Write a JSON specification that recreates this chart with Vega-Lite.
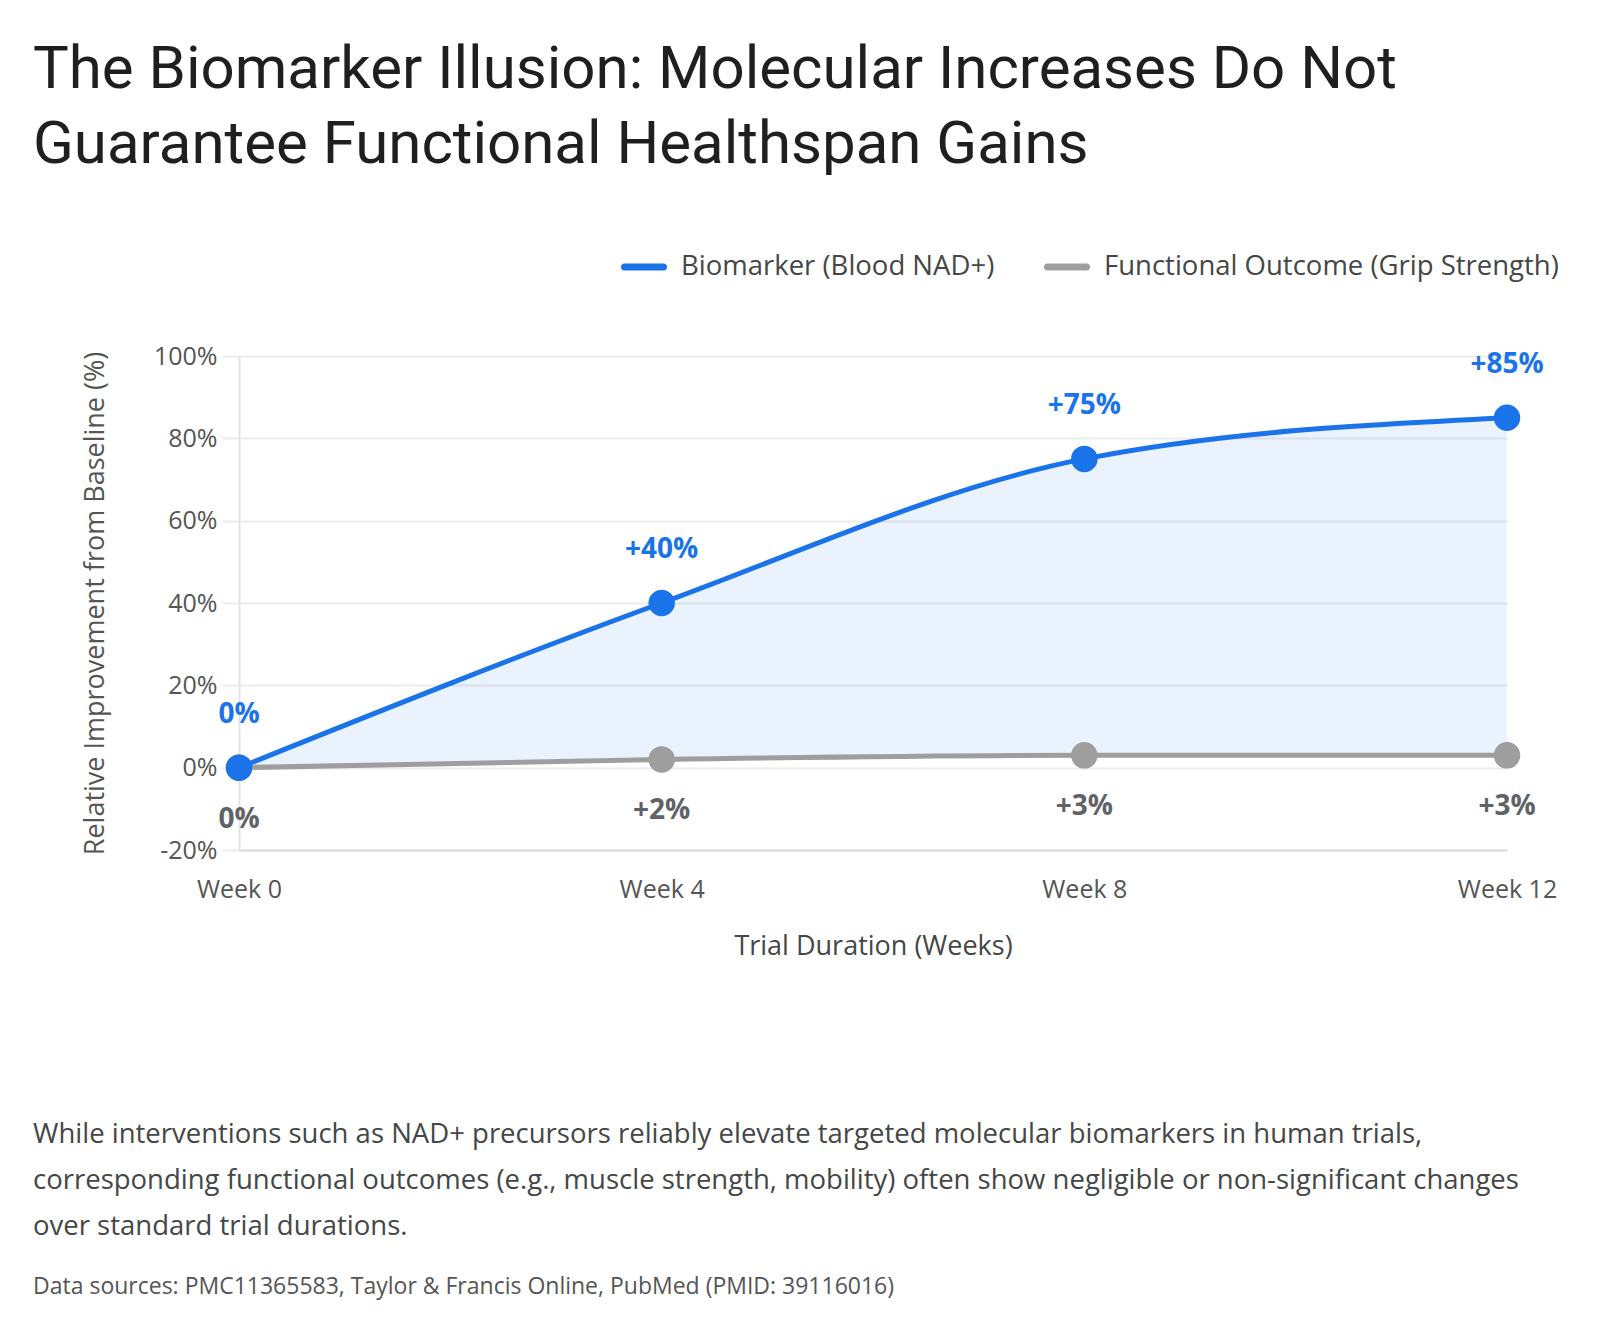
{
  "$schema": "https://vega.github.io/schema/vega-lite/v6.json",
  "background": "white",
  "padding": {"left": 33, "top": 40, "right": 20, "bottom": 20},
  "title": {
    "text": ["The Biomarker Illusion: Molecular Increases Do Not", "Guarantee Functional Healthspan Gains"],
    "anchor": "start",
    "frame": "group",
    "dx": -206,
    "font": "Roboto",
    "fontSize": 60,
    "fontWeight": 400,
    "color": "#1f1f1f",
    "lineHeight": 75,
    "offset": 68
  },
  "datasets": {
    "trial": [
      {"week": 0, "nad": 0, "grip": 0},
      {"week": 4, "nad": 40, "grip": 2},
      {"week": 8, "nad": 75, "grip": 3},
      {"week": 12, "nad": 85, "grip": 3}
    ]
  },
  "vconcat": [
    {
      "width": 1268,
      "height": 494,
      "data": {"name": "trial"},
      "title": {
        "text": [
          "While interventions such as NAD+ precursors reliably elevate targeted molecular biomarkers in human trials,",
          "corresponding functional outcomes (e.g., muscle strength, mobility) often show negligible or non-significant changes",
          "over standard trial durations."
        ],
        "subtitle": "Data sources: PMC11365583, Taylor & Francis Online, PubMed (PMID: 39116016)",
        "orient": "bottom",
        "anchor": "start",
        "frame": "group",
        "dx": -206,
        "offset": 162,
        "font": "Open Sans",
        "fontSize": 27.5,
        "fontWeight": 400,
        "color": "#444746",
        "lineHeight": 46,
        "subtitleFont": "Open Sans",
        "subtitleFontSize": 23,
        "subtitleColor": "#555555",
        "subtitlePadding": 35
      },
      "encoding": {
        "x": {
          "field": "week",
          "type": "quantitative",
          "scale": {"domain": [0, 12], "nice": false, "zero": false},
          "axis": {
            "title": "Trial Duration (Weeks)",
            "values": [0, 4, 8, 12],
            "labelExpr": "'Week ' + datum.value",
            "labelFlush": false,
            "grid": false,
            "ticks": false,
            "domainColor": "#dadada",
            "domainWidth": 2,
            "labelFont": "Open Sans",
            "labelFontSize": 25,
            "labelColor": "#555555",
            "labelPadding": 27,
            "titleFont": "Open Sans",
            "titleFontSize": 27,
            "titleFontWeight": 400,
            "titleColor": "#444746",
            "titlePadding": 31
          }
        }
      },
      "layer": [
        {
          "mark": {"type": "area", "interpolate": "monotone", "color": "#1a73e8", "opacity": 0.09},
          "encoding": {
            "y": {
              "field": "nad",
              "type": "quantitative",
              "scale": {"domain": [-20, 100], "nice": false},
              "axis": {
                "title": "Relative Improvement from Baseline (%)",
                "values": [-20, 0, 20, 40, 60, 80, 100],
                "labelExpr": "datum.value + '%'",
                "grid": true,
                "gridColor": "#ececec",
                "gridWidth": 2,
                "tickSize": 17,
                "tickColor": "#ececec",
                "tickWidth": 2,
                "domainColor": "#e4e4e4",
                "domainWidth": 2,
                "labelFont": "Open Sans",
                "labelFontSize": 25,
                "labelColor": "#555555",
                "labelPadding": 5,
                "titleFont": "Open Sans",
                "titleFontSize": 27,
                "titleFontWeight": 400,
                "titleColor": "#555555",
                "titlePadding": 44
              }
            },
            "y2": {"field": "grip"}
          }
        },
        {
          "transform": [
            {"fold": ["nad", "grip"], "as": ["measure", "pct"]},
            {"calculate": "datum.measure === 'nad' ? 'Biomarker (Blood NAD+)' : 'Functional Outcome (Grip Strength)'", "as": "series"},
            {"calculate": "datum.measure === 'nad' ? 0 : 1", "as": "ord"}
          ],
          "mark": {"type": "line", "interpolate": "monotone", "strokeWidth": 5, "strokeCap": "round"},
          "encoding": {
            "y": {"field": "pct", "type": "quantitative"},
            "color": {
              "field": "series",
              "type": "nominal",
              "scale": {
                "domain": ["Biomarker (Blood NAD+)", "Functional Outcome (Grip Strength)"],
                "range": ["#1a73e8", "#9e9e9e"]
              },
              "legend": {
                "title": null,
                "orient": "none",
                "direction": "horizontal",
                "legendX": 382,
                "legendY": -112,
                "symbolType": "stroke",
                "symbolStrokeWidth": 7,
                "symbolSize": 1520,
                "labelFont": "Open Sans",
                "labelFontSize": 27.5,
                "labelColor": "#444746",
                "labelOffset": 14,
                "columnPadding": 38,
                "labelLimit": 600,
                "encode": {"symbols": {"update": {"strokeCap": {"value": "round"}}}}
              }
            },
            "order": {"field": "ord", "type": "quantitative"},
            "detail": {"field": "series"}
          }
        },
        {
          "mark": {"type": "circle", "size": 700, "opacity": 1, "color": "#9e9e9e"},
          "encoding": {"y": {"field": "grip", "type": "quantitative"}}
        },
        {
          "mark": {"type": "circle", "size": 700, "opacity": 1, "color": "#1a73e8"},
          "encoding": {"y": {"field": "nad", "type": "quantitative"}}
        },
        {
          "transform": [
            {"calculate": "(datum.nad > 0 ? '+' : '') + datum.nad + '%'", "as": "nadLabel"}
          ],
          "mark": {"type": "text", "dy": -53, "font": "Open Sans", "fontSize": 28, "fontWeight": "bold", "color": "#1a73e8"},
          "encoding": {
            "y": {"field": "nad", "type": "quantitative"},
            "text": {"field": "nadLabel"}
          }
        },
        {
          "transform": [
            {"calculate": "(datum.grip > 0 ? '+' : '') + datum.grip + '%'", "as": "gripLabel"}
          ],
          "mark": {"type": "text", "dy": 52, "font": "Open Sans", "fontSize": 28, "fontWeight": "bold", "color": "#5f6368"},
          "encoding": {
            "y": {"field": "grip", "type": "quantitative"},
            "text": {"field": "gripLabel"}
          }
        }
      ]
    }
  ],
  "config": {
    "view": {"stroke": null},
    "font": "Open Sans"
  }
}
